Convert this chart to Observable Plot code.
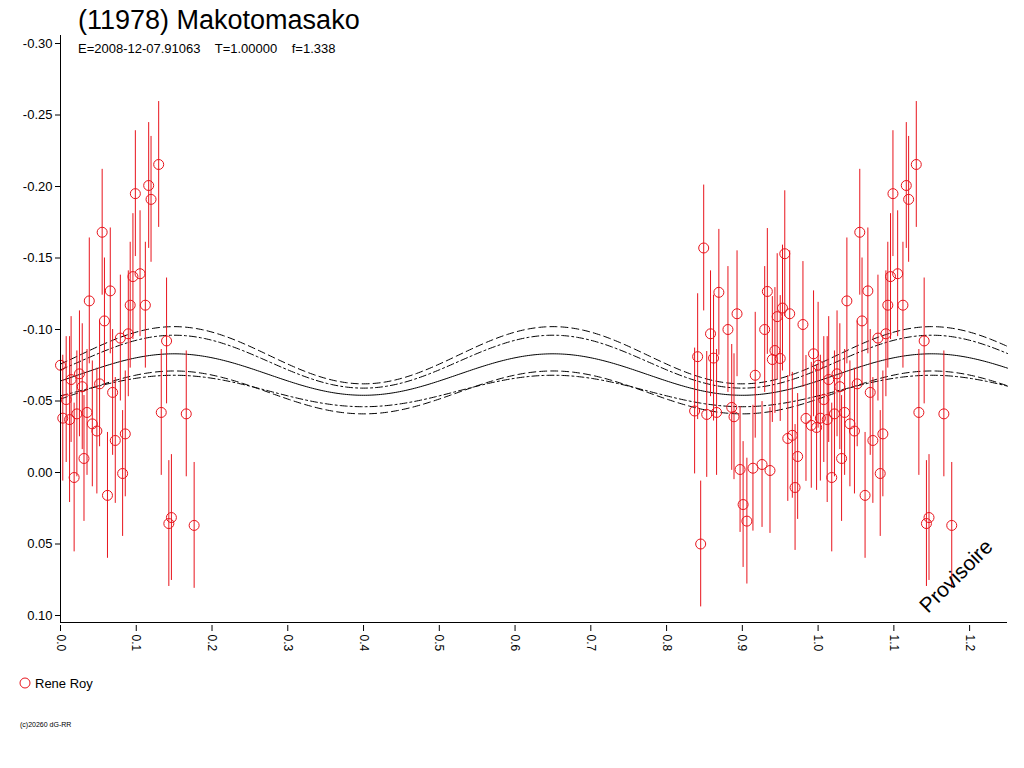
<!DOCTYPE html>
<html><head><meta charset="utf-8">
<script src="https://cdn.jsdelivr.net/npm/d3@7"></script>
<script src="https://cdn.jsdelivr.net/npm/@observablehq/plot@0.6"></script>
<style>body{margin:0;background:#fff;font-family:"Liberation Sans",Arial,sans-serif}</style>
</head><body><div id="c"></div>
<script>
const phase = [0.000,0.003,0.0075,0.012,0.014,0.018,0.0216,0.025,0.0287,0.031,0.035,0.038,0.042,0.048,0.0516,0.055,0.058,0.062,0.0657,0.0688,0.0723,0.079,0.082,0.0855,0.0895,0.092,0.0956,0.0988,0.105,0.112,0.1164,0.1195,0.1296,0.133,0.14,0.143,0.1464,0.166,0.1764,
0.849,0.869,0.841,0.837,0.853,0.845,0.858,0.862,0.866,0.881,0.893,0.886,0.889,0.897,0.901,0.906,0.914,0.917,0.926,0.9295,0.933,0.9365,0.9396,0.943,0.946,0.95,0.953,0.956,0.9625,0.96,0.966,0.973,0.9696,0.98,0.984,0.991,0.994,0.998];
const mag = [-0.075,-0.038,-0.051,-0.037,-0.065,0.0035,-0.041,-0.069,-0.060,-0.0098,-0.042,-0.120,-0.034,-0.029,-0.062,-0.168,-0.106,0.016,-0.127,-0.056,-0.0224,-0.094,0.0007,-0.027,-0.097,-0.117,-0.137,-0.195,-0.139,-0.117,-0.2007,-0.191,-0.2154,-0.042,-0.092,0.0357,0.0315,-0.041,0.037,
-0.157,-0.126,-0.081,-0.043,-0.0406,0.050,-0.097,-0.080,-0.042,-0.100,-0.111,-0.0455,-0.039,-0.0021,0.0224,0.034,-0.003,-0.068,-0.0056,-0.100,-0.1266,-0.0014,-0.079,-0.0853,-0.109,-0.0797,-0.115,-0.153,-0.111,-0.0238,-0.026,-0.0112,0.0105,-0.1035,-0.0378,-0.033,-0.083,-0.0315];
const err = phase.map((p,i)=> i===3?0.058 : i===5?0.052 : 0.044);
const xTicks = [0.0,0.1,0.2,0.3,0.4,0.5,0.6,0.7,0.8,0.9,1.0,1.1,1.2];
const yTicks = [-0.30,-0.25,-0.20,-0.15,-0.10,-0.05,0.00,0.05,0.10];
// fit curves: [mean, amplitude], period 0.5, extremum at phase 0.15
const fits = [
  {name:"fit", mean:-0.0685, amp:0.0145, dash:null},
  {name:"upper", mean:-0.082, amp:0.020, dash:"7,4"},
  {name:"lower", mean:-0.056, amp:0.015, dash:"7,4"},
  {name:"upper2", mean:-0.0775, amp:0.0185, dash:"7,3,2,3"},
  {name:"lower2", mean:-0.057, amp:0.011, dash:"7,3,2,3"}
];
const P0 = 0.15, PER = 0.5;

let pts = phase.map((p,i)=>({x:p,y:mag[i],e:err[i]}));
pts = pts.concat(pts.filter(d=>d.x<0.25).map(d=>({...d,x:d.x+1})));
const grid = d3.range(0,1.2501,0.0025);
const curveMarks = fits.map(f=>Plot.line(grid.map(x=>({x,y:f.mean - f.amp*Math.cos(2*Math.PI*(x-P0)/PER)})),
  {x:"x",y:"y",stroke:"#000",strokeWidth:1,strokeDasharray:f.dash}));

const plot = Plot.plot({
  width:1024,height:768,marginTop:43,marginBottom:153,marginLeft:60,marginRight:17,
  style:{fontFamily:"'Liberation Sans',Arial,sans-serif",fontSize:"12px",background:"#fff"},
  x:{domain:[0,1.25]},
  y:{domain:[-0.30,0.10],reverse:true},
  marks:[
    ...curveMarks,
    Plot.ruleX(pts,{x:"x",y1:d=>d.y-d.e,y2:d=>d.y+d.e,stroke:"#e8141c",strokeWidth:1}),
    Plot.dot(pts,{x:"x",y:"y",r:5,stroke:"#e8141c",fill:"none",strokeWidth:1}),
    Plot.axisY({ticks:yTicks,tickFormat:d=>d.toFixed(2),tickSize:5,tickPadding:3,label:null,fontSize:13}),
    Plot.axisX({ticks:xTicks,tickFormat:d=>d.toFixed(1),tickRotate:90,tickSize:6,label:null,fontSize:12,dy:10,textAnchor:"start"}),
  ]
});
document.getElementById("c").appendChild(plot);
const svg = d3.select(plot);
const g = svg.append("g").attr("text-anchor","start").attr("fill","#000");
g.append("line").attr("x1",60.5).attr("x2",60.5).attr("y1",35).attr("y2",622).attr("stroke","#000");
g.append("line").attr("x1",60).attr("x2",1007).attr("y1",622.5).attr("y2",622.5).attr("stroke","#000");
g.append("text").attr("x",78).attr("y",29).attr("font-size",27).text("(11978) Makotomasako");
g.append("text").attr("x",78).attr("y",53).attr("font-size",13).attr("xml:space","preserve").text("E=2008-12-07.91063    T=1.00000    f=1.338");
g.append("circle").attr("cx",25).attr("cy",683).attr("r",5).attr("fill","none").attr("stroke","#e8141c");
g.append("text").attr("x",35).attr("y",688).attr("font-size",13).text("Rene Roy");
g.append("text").attr("x",20).attr("y",727).attr("font-size",7).text("(c)20260 dG-RR");
g.append("text").attr("transform","translate(928,614) rotate(-45)").attr("font-size",21).text("Provisoire");
</script></body></html>
